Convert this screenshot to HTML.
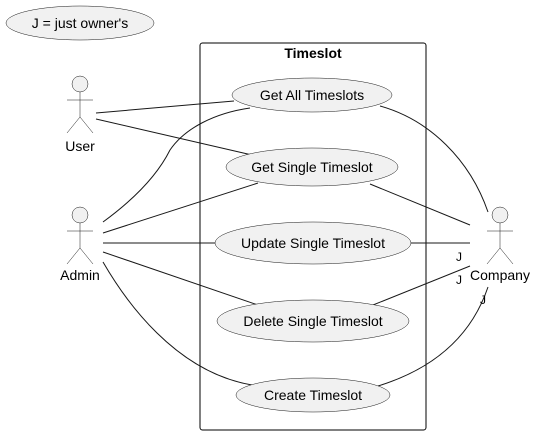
<!DOCTYPE html>
<html><head><style>body{margin:0;background:#fff}svg{display:block}</style></head><body>
<svg width="541" height="435" viewBox="0 0 541 435" xmlns="http://www.w3.org/2000/svg" font-family="Liberation Sans, sans-serif">
<g fill="#f1f1f1" stroke="#181818" stroke-width="0.5">
<ellipse cx="80" cy="23" rx="74" ry="17"/>
</g>
<text x="80" y="28" font-size="14" text-anchor="middle">J = just owner's</text>
<rect x="200" y="43" width="226" height="387" rx="2.5" fill="none" stroke="#000" stroke-width="1"/>
<text x="313" y="58" font-size="14" font-weight="bold" text-anchor="middle">Timeslot</text>
<g fill="none" stroke="#181818" stroke-width="1">
<line x1="96" y1="113" x2="234" y2="101"/>
<line x1="96" y1="119" x2="252" y2="155"/>
<path d="M103 222 C140 195,160 170,170 150 C185 128,215 113,250 108"/>
<line x1="103" y1="233" x2="258" y2="183"/>
<line x1="103" y1="243" x2="215" y2="243"/>
<line x1="103" y1="252" x2="258" y2="305"/>
<path d="M103 262 C125 300,175 372,252 385"/>
<path d="M380 106 C430 120,470 160,488 212"/>
<line x1="370" y1="184" x2="470" y2="225"/>
<line x1="411" y1="243" x2="470" y2="243"/>
<line x1="373" y1="305" x2="470" y2="266"/>
<path d="M378 386 C430 370,470 340,488 287"/>
</g>
<g fill="#f1f1f1" stroke="#181818" stroke-width="0.5">
<ellipse cx="312" cy="95" rx="80" ry="17"/>
<ellipse cx="312" cy="167" rx="86" ry="19"/>
<ellipse cx="313" cy="243" rx="98" ry="21"/>
<ellipse cx="313" cy="321" rx="96" ry="21"/>
<ellipse cx="313" cy="395" rx="77" ry="17"/>
</g>
<g font-size="14" text-anchor="middle">
<text x="312" y="100">Get All Timeslots</text>
<text x="312" y="172">Get Single Timeslot</text>
<text x="313" y="248">Update Single Timeslot</text>
<text x="313" y="326">Delete Single Timeslot</text>
<text x="313" y="400">Create Timeslot</text>
</g>
<g fill="#f1f1f1" stroke="#181818" stroke-width="0.5">
<circle cx="80" cy="84" r="8"/>
<circle cx="80" cy="215" r="8"/>
<circle cx="500" cy="215" r="8"/>
</g>
<g stroke="#181818" stroke-width="0.5" fill="none">
<path d="M80 92V117M67 100H93M67 133L80 117L93 133"/>
<path d="M80 223V248M67 231H93M67 264L80 248L93 264"/>
<path d="M500 223V248M487 231H513M487 264L500 248L513 264"/>
</g>
<g font-size="14" text-anchor="middle">
<text x="80" y="151">User</text>
<text x="80" y="280">Admin</text>
<text x="500" y="280">Company</text>
</g>
<g font-size="12">
<text x="456" y="261">J</text>
<text x="456" y="284">J</text>
<text x="480" y="304">J</text>
</g>
</svg>
</body></html>
